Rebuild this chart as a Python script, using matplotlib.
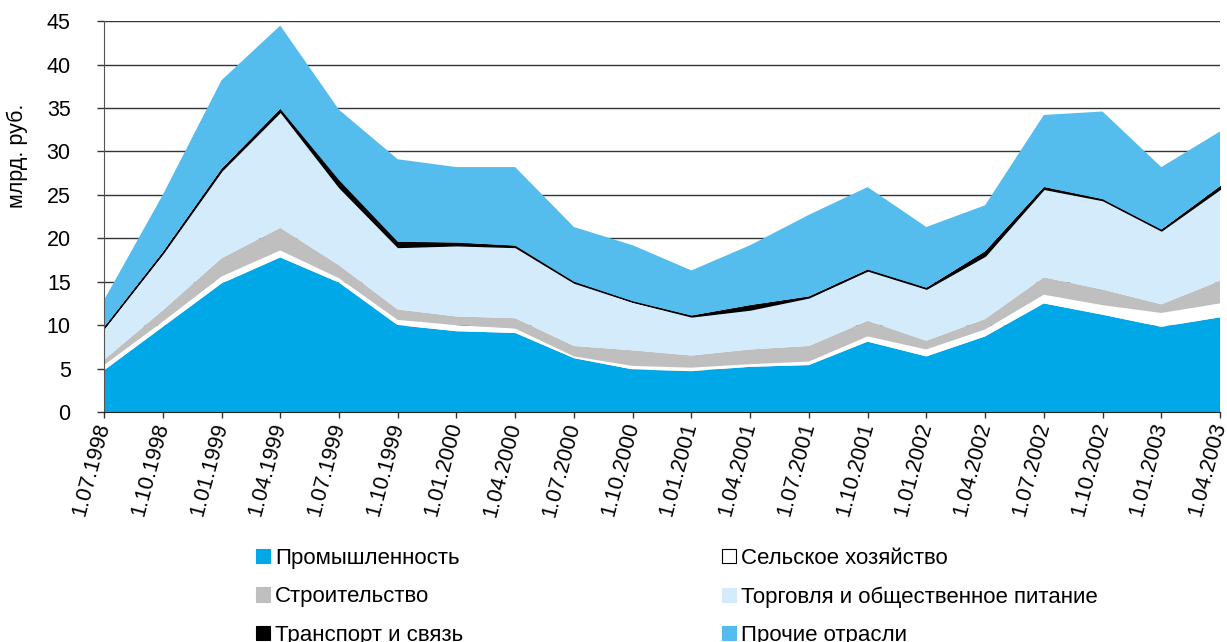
import numpy as np
import matplotlib.pyplot as plt
from matplotlib.patches import Patch

plt.rcParams['font.family'] = ['Liberation Sans', 'DejaVu Sans']

dates = ["1.07.1998", "1.10.1998", "1.01.1999", "1.04.1999", "1.07.1999",
         "1.10.1999", "1.01.2000", "1.04.2000", "1.07.2000", "1.10.2000",
         "1.01.2001", "1.04.2001", "1.07.2001", "1.10.2001", "1.01.2002",
         "1.04.2002", "1.07.2002", "1.10.2002", "1.01.2003", "1.04.2003"]

industry = [4.8, 9.8, 14.8, 17.8, 14.9, 10.0, 9.3, 9.1, 6.2, 4.9,
            4.7, 5.2, 5.4, 8.1, 6.4, 8.7, 12.5, 11.2, 9.8, 10.9]
agriculture = [0.6, 0.6, 0.8, 0.8, 0.5, 0.6, 0.7, 0.5, 0.2, 0.4,
               0.4, 0.3, 0.4, 0.6, 0.8, 0.8, 1.0, 1.1, 1.6, 1.6]
construction = [0.6, 1.3, 2.1, 2.6, 1.5, 1.2, 1.0, 1.2, 1.2, 1.8,
                1.4, 1.7, 1.8, 1.8, 1.0, 1.2, 2.0, 1.8, 1.0, 2.6]
trade = [3.7, 6.6, 10.1, 13.4, 9.0, 7.2, 8.2, 8.2, 7.3, 5.6,
         4.5, 4.6, 5.6, 5.8, 6.0, 7.3, 10.2, 10.3, 8.5, 10.6]
transport = [0.05, 0.1, 0.2, 0.3, 0.8, 0.6, 0.3, 0.15, 0.1, 0.05,
             0.1, 0.5, 0.1, 0.1, 0.1, 0.5, 0.2, 0.1, 0.1, 0.3]
other = [3.15, 6.6, 10.2, 9.6, 8.1, 9.5, 8.7, 9.05, 6.3, 6.45,
         5.2, 6.9, 9.4, 9.5, 7.0, 5.3, 8.3, 10.1, 7.2, 6.3]

names = ["Промышленность", "Сельское хозяйство", "Строительство",
         "Торговля и общественное питание", "Транспорт и связь", "Прочие отрасли"]
colors = ["#00A8E8", "#FFFFFF", "#BFBFBF", "#D3EBFA", "#000000", "#55BDED"]

x = np.arange(len(dates))

fig = plt.figure(figsize=(12.27, 6.42), dpi=100)
ax = fig.add_axes([0.0848, 0.3583, 0.9095, 0.6087])

polys = ax.stackplot(x, industry, agriculture, construction, trade, transport, other,
                     colors=colors, linewidth=0)
polys[4].set_edgecolor("black")
polys[4].set_linewidth(1.0)

ax.set_xlim(0, len(dates) - 1)
ax.set_ylim(0, 45)
ax.set_yticks(range(0, 46, 5))
ax.yaxis.grid(True, color="#333333", linewidth=1.0)
ax.set_axisbelow(True)

ax.set_xticks(x)
ax.set_xticklabels(dates, rotation=75, ha="right", va="center", rotation_mode="anchor")
ax.tick_params(axis="x", length=4, width=1, color="#333333", labelsize=15.5, pad=4)
ax.tick_params(axis="y", length=5, width=1, color="#333333", labelsize=15.5, pad=19)

for s in ["top", "right"]:
    ax.spines[s].set_visible(False)
ax.spines["left"].set_color("#555555")
ax.spines["bottom"].set_color("#222222")

ax.set_ylabel("млрд. руб.", fontsize=15.5)
ax.yaxis.set_label_coords(-0.068, 0.655)

def handles(idx):
    return [Patch(facecolor=colors[i], edgecolor="black" if i == 1 else colors[i],
                  linewidth=0.8, label=names[i]) for i in idx]

common = dict(frameon=False, fontsize=16, handlelength=0.62, handleheight=0.62,
              handletextpad=0.25, labelspacing=0.78, borderpad=0, borderaxespad=0)
leg1 = fig.legend(handles=handles([0, 2, 4]), loc="upper left",
                  bbox_to_anchor=(256 / 1227, 1 - 548 / 642), **common)
leg2 = fig.legend(handles=handles([1, 3, 5]), loc="upper left",
                  bbox_to_anchor=(722 / 1227, 1 - 548 / 642), **common)

fig.savefig("out.png", dpi=100)
